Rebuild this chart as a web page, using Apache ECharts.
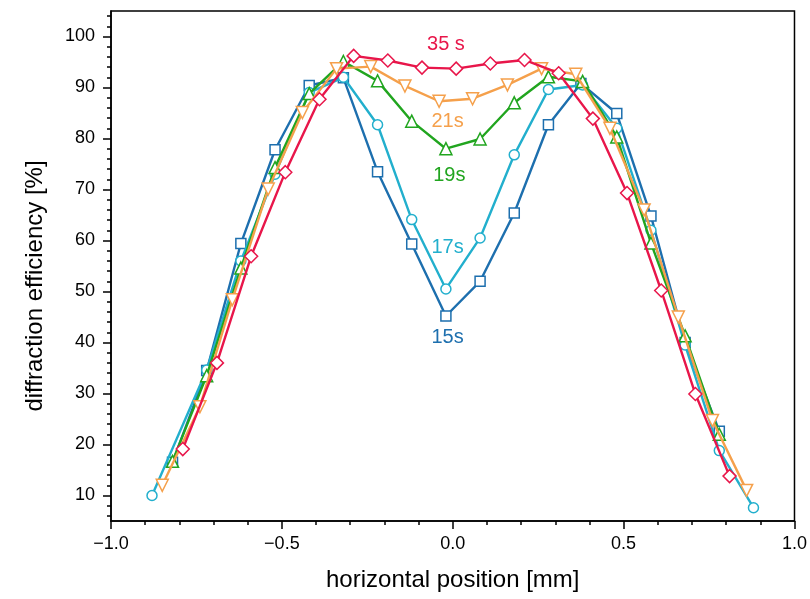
<!DOCTYPE html>
<html>
<head>
<meta charset="utf-8">
<script src="https://cdn.jsdelivr.net/npm/echarts@6/dist/echarts.min.js"></script>
<style>
  html, body { margin: 0; padding: 0; background: #fff; }
  #chart { width: 810px; height: 599px; }
</style>
</head>
<body>
<div id="chart"></div>
<script>
// horizontal position [mm] and diffraction efficiency [%] per exposure time
const pos15 = [-0.82, -0.72, -0.62, -0.52, -0.42, -0.32, -0.22, -0.12, -0.02, 0.08, 0.18, 0.28, 0.375, 0.48, 0.58, 0.68, 0.78];
const eff15 = [16.5, 34.5, 59.4, 77.8, 90.4, 91.9, 73.5, 59.3, 45.2, 52.0, 65.4, 82.7, 90.8, 84.9, 64.8, 40.0, 22.6];

const pos17 = [-0.88, -0.72, -0.62, -0.52, -0.42, -0.32, -0.22, -0.12, -0.02, 0.08, 0.18, 0.28, 0.38, 0.48, 0.58, 0.68, 0.78, 0.88];
const eff17 = [10.0, 34.6, 56.0, 73.0, 89.0, 92.0, 82.7, 64.1, 50.5, 60.5, 76.8, 89.6, 90.5, 82.0, 62.0, 39.5, 18.8, 7.6];

const pos19 = [-0.82, -0.72, -0.62, -0.52, -0.42, -0.32, -0.22, -0.12, -0.02, 0.08, 0.18, 0.28, 0.38, 0.48, 0.58, 0.68, 0.78];
const eff19 = [16.7, 33.5, 54.6, 74.3, 88.8, 95.1, 91.3, 83.4, 78.0, 79.9, 87.0, 92.1, 91.2, 80.3, 59.5, 41.3, 22.0];

const pos21 = [-0.85, -0.74, -0.645, -0.54, -0.44, -0.34, -0.24, -0.14, -0.04, 0.058, 0.16, 0.26, 0.36, 0.46, 0.56, 0.66, 0.76, 0.86];
const eff21 = [12.0, 27.4, 48.4, 70.1, 85.1, 93.7, 94.1, 90.3, 87.3, 87.8, 90.5, 93.7, 92.6, 82.0, 66.0, 45.0, 24.7, 11.0];

const pos35 = [-0.79, -0.69, -0.59, -0.49, -0.39, -0.29, -0.19, -0.09, 0.01, 0.11, 0.21, 0.31, 0.41, 0.51, 0.61, 0.71, 0.81];
const eff35 = [19.1, 36.0, 56.9, 73.4, 87.7, 96.2, 95.3, 93.9, 93.7, 94.7, 95.4, 92.8, 83.9, 69.3, 50.2, 29.9, 13.8];

const yMajor = [10, 20, 30, 40, 50, 60, 70, 80, 90, 100];
const yMinor = [6, 8, 12, 14, 16, 18, 22, 24, 26, 28, 32, 34, 36, 38, 42, 44, 46, 48, 52, 54, 56, 58,
  62, 64, 66, 68, 72, 74, 76, 78, 82, 84, 86, 88, 92, 94, 96, 98, 102, 104];

// series label positions (data units)
const tagText = ["15s", "17s", "19s", "21s", "35 s"];
const tagPos = [[-0.015, 40.9], [-0.015, 58.6], [-0.01, 72.7], [-0.015, 83.3], [-0.02, 98.5]];

const colors = ["#1d6fae", "#22afcd", "#21a51f", "#f5a04b", "#e8164a"];
const symbols = ["rect", "circle", "triangle", "triangle", "diamond"];
const symbolSizes = [10, 10, 12, 12, 13];
const symbolRot = [0, 0, 0, 180, 0];
const positions = [pos15, pos17, pos19, pos21, pos35];
const values = [eff15, eff17, eff19, eff21, eff35];

const fontMain = "'Liberation Sans', Arial, sans-serif";

const series = positions.map((p, i) => ({
  name: tagText[i],
  type: "line",
  data: p.map((x, k) => [x, values[i][k]]),
  symbol: symbols[i],
  symbolSize: symbolSizes[i],
  symbolRotate: symbolRot[i],
  showAllSymbol: true,
  lineStyle: { color: colors[i], width: 2.4 },
  itemStyle: { color: "#fff", borderColor: colors[i], borderWidth: 1.5 },
  emphasis: { disabled: true },
  z: 2 + i,
  markPoint: {
    symbol: "circle",
    symbolSize: 0,
    silent: true,
    data: [{ coord: tagPos[i] }],
    label: {
      show: true,
      position: "inside",
      formatter: tagText[i],
      color: colors[i],
      fontSize: 20,
      fontFamily: fontMain,
    },
  },
}));

const chart = echarts.init(document.getElementById("chart"));
chart.setOption({
  animation: false,
  backgroundColor: "#fff",
  grid: {
    left: 111,
    right: 15,
    top: 11,
    bottom: 78,
    show: true,
    borderColor: "#000",
    borderWidth: 1.5,
  },
  xAxis: {
    type: "value",
    min: -1,
    max: 1,
    interval: 0.5,
    name: "horizontal position [mm]",
    nameLocation: "middle",
    nameGap: 47,
    nameTextStyle: { color: "#000", fontSize: 24, fontFamily: fontMain },
    axisLine: { onZero: false, lineStyle: { color: "#000", width: 1.5 } },
    axisTick: { inside: false, length: 8, lineStyle: { color: "#000", width: 1.5 } },
    minorTick: { show: true, splitNumber: 5, length: 4, lineStyle: { color: "#000", width: 1.5 } },
    axisLabel: {
      color: "#000",
      fontSize: 18,
      fontFamily: fontMain,
      margin: 14,
      formatter: (v) => v.toFixed(1).replace("-", "\u2212"),
    },
    splitLine: { show: false },
  },
  yAxis: [
    {
      type: "value",
      min: 5,
      max: 105,
      name: "diffraction efficiency [%]",
      nameLocation: "middle",
      nameGap: 64,
      nameTextStyle: { color: "#000", fontSize: 24, fontFamily: fontMain, padding: [0, 40, 0, 0] },
      axisLine: { show: true, onZero: false, lineStyle: { color: "#000", width: 1.5 } },
      axisTick: { show: true, inside: false, length: 8, customValues: yMajor, lineStyle: { color: "#000", width: 1.5 } },
      axisLabel: { color: "#000", fontSize: 18, fontFamily: fontMain, margin: 16, customValues: yMajor },
      splitLine: { show: false },
    },
    {
      type: "value",
      position: "left",
      min: 5,
      max: 105,
      axisLine: { show: false, onZero: false },
      axisTick: { show: true, inside: false, length: 4, customValues: yMinor, lineStyle: { color: "#000", width: 1.5 } },
      axisLabel: { show: false },
      splitLine: { show: false },
    },
  ],
  series: series,
});
</script>
</body>
</html>
